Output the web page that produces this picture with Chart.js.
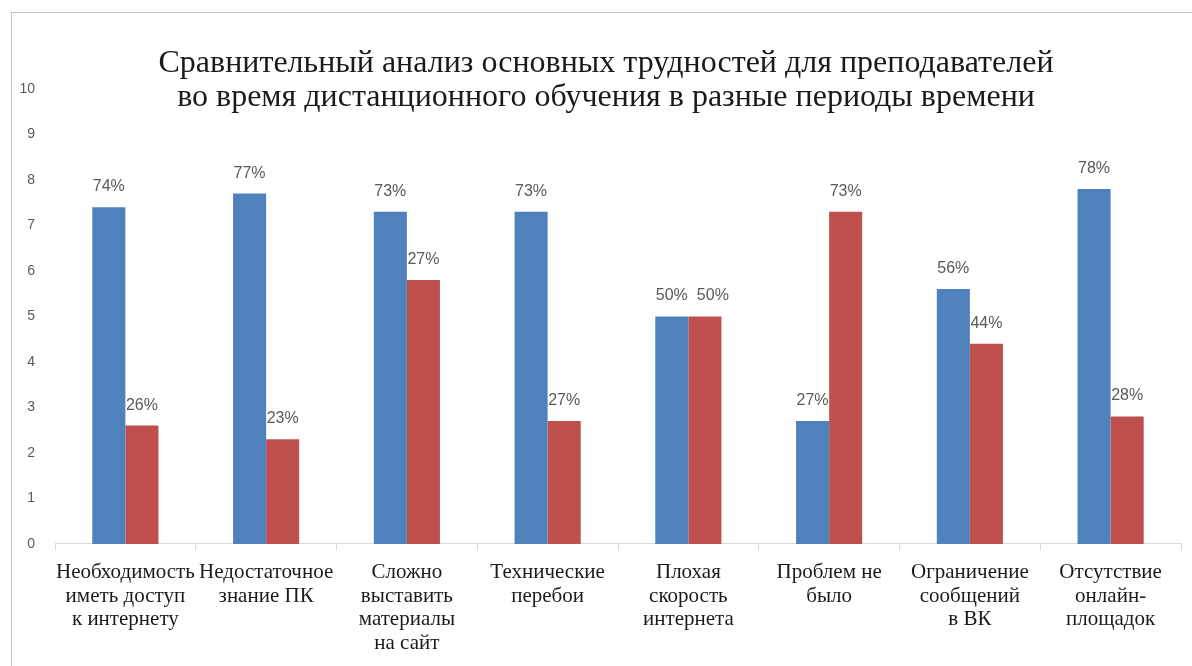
<!DOCTYPE html>
<html><head><meta charset="utf-8">
<script src="https://cdn.jsdelivr.net/npm/chart.js@4"></script>
<style>
html,body{margin:0;padding:0;background:#fff;overflow:hidden;}
#frame{position:absolute;left:11px;top:12px;width:1300px;height:800px;border-left:1px solid #c4c4c4;border-top:1px solid #c4c4c4;}
#wrap{position:absolute;left:0;top:0;width:1192px;height:666px;}
</style></head>
<body>
<div id="frame"></div>
<div id="wrap"><canvas id="c"></canvas></div>
<script>
const titleLines = ["Сравнительный анализ основных трудностей для преподавателей", "во время дистанционного обучения в разные периоды времени"];
const categories = [
  ["Необходимость", "иметь доступ", "к интернету"],
  ["Недостаточное", "знание ПК"],
  ["Сложно", "выставить", "материалы", "на сайт"],
  ["Технические", "перебои"],
  ["Плохая", "скорость", "интернета"],
  ["Проблем не", "было"],
  ["Ограничение", "сообщений", "в ВК"],
  ["Отсутствие", "онлайн-", "площадок"]
];
const seriesNames = ["Период 1", "Период 2"];
const blueValues = [7.4, 7.7, 7.3, 7.3, 5.0, 2.7, 5.6, 7.8];
const redValues  = [2.6, 2.3, 5.8, 2.7, 5.0, 7.3, 4.4, 2.8];
const blueLabels = ["74%", "77%", "73%", "73%", "50%", "27%", "56%", "78%"];
const redLabels  = ["26%", "23%", "27%", "27%", "50%", "73%", "44%", "28%"];
const yTicks = [0,1,2,3,4,5,6,7,8,9,10];

const dataLabelPlugin = {
  id: 'dataLabels',
  afterDatasetsDraw(chart) {
    const ctx = chart.ctx;
    ctx.save();
    ctx.font = '16px "Liberation Sans", Arial, sans-serif';
    ctx.fillStyle = '#595959';
    ctx.textAlign = 'center';
    ctx.textBaseline = 'alphabetic';
    const m0 = chart.getDatasetMeta(0), m1 = chart.getDatasetMeta(1);
    m0.data.forEach((b0, j) => {
      const b1 = m1.data[j];
      const t0 = blueLabels[j], t1 = redLabels[j];
      const w0 = ctx.measureText(t0).width, w1 = ctx.measureText(t1).width;
      let x1 = b1.x;
      const y0 = b0.y - 16, y1 = b1.y - 16;
      // simple collision avoidance: push the second label right if they overlap
      if (Math.abs(y0 - y1) < 16) {
        const minX = b0.x + w0 / 2 + 9 + w1 / 2;
        if (x1 < minX) x1 = minX;
      }
      ctx.fillText(t0, b0.x, y0);
      ctx.fillText(t1, x1, y1);
    });
    ctx.restore();
  }
};

// center the title block over the region the reference uses
const titleShiftPlugin = {
  id: 'titleShift',
  afterLayout(chart) {
    const tb = chart.titleBlock;
    if (tb) { tb.left = 31; tb.right = chart.chartArea.right; tb.width = tb.right - tb.left; }
  }
};

new Chart(document.getElementById('c'), {
  type: 'bar',
  data: {
    labels: categories,
    datasets: [
      { label: seriesNames[0], data: blueValues, backgroundColor: '#4F81BD', categoryPercentage: 0.47, barPercentage: 1 },
      { label: seriesNames[1], data: redValues, backgroundColor: '#C0504D', categoryPercentage: 0.47, barPercentage: 1 }
    ]
  },
  options: {
    responsive: true,
    maintainAspectRatio: false,
    animation: false,
    layout: { padding: { left: 0, right: 11, top: 0, bottom: 0 } },
    plugins: {
      legend: { display: false },
      tooltip: { enabled: false },
      title: {
        display: true,
        text: titleLines,
        color: '#1a1a1a',
        font: { family: '"Liberation Serif", "Times New Roman", serif', size: 32, weight: 'normal', lineHeight: 1.06 },
        padding: { top: 47, bottom: -26 }
      }
    },
    scales: {
      x: {
        grid: { display: true, drawOnChartArea: false, drawTicks: true, tickLength: 6, color: '#d9d9d9', offset: true },
        border: { display: true, color: '#d9d9d9' },
        ticks: {
          autoSkip: false, maxRotation: 0, minRotation: 0, padding: 11,
          color: '#1a1a1a',
          font: { family: '"Liberation Serif", "Times New Roman", serif', size: 21, lineHeight: 1.12 }
        }
      },
      y: {
        min: 0, max: 10,
        afterBuildTicks(scale) { scale.ticks = yTicks.map(v => ({ value: v })); },
        afterFit(scale) { scale.width = 55; },
        grid: { display: false, drawTicks: false },
        border: { display: false },
        ticks: {
          padding: 20,
          color: '#595959',
          font: { family: '"Liberation Sans", Arial, sans-serif', size: 14 }
        }
      }
    }
  },
  plugins: [dataLabelPlugin, titleShiftPlugin]
});
</script>
</body></html>
